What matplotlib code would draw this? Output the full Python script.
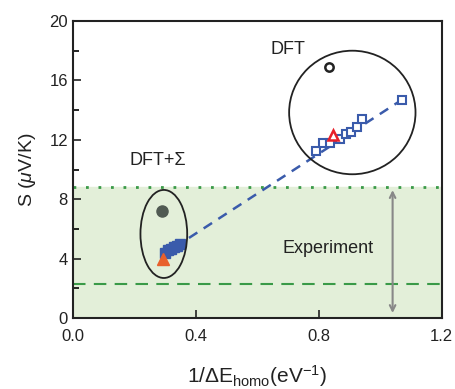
import matplotlib.pyplot as plt
from matplotlib.patches import Ellipse

plt.rcParams['font.family'] = ['Liberation Sans', 'DejaVu Sans']
plt.rcParams['mathtext.fontset'] = 'custom'
plt.rcParams['mathtext.rm'] = 'Liberation Sans'
plt.rcParams['mathtext.it'] = 'Liberation Sans:italic'

# DFT (open symbols)
dft_x = [0.790, 0.814, 0.836, 0.868, 0.890, 0.906, 0.923, 0.939, 1.069]
dft_y = [11.27, 11.76, 11.80, 12.03, 12.39, 12.55, 12.88, 13.38, 14.68]
dft_tri_x, dft_tri_y = [0.847], [12.32]
dft_circ_x, dft_circ_y = [0.834], [16.92]

# DFT+Sigma (filled symbols)
sig_x = [0.300, 0.310, 0.320, 0.330, 0.340, 0.350]
sig_y = [4.40, 4.55, 4.65, 4.75, 4.85, 5.00]
sig_tri_x, sig_tri_y = [0.292], [3.95]
sig_circ_x, sig_circ_y = [0.290], [7.20]

# ajuste lineal
fit_x = [0.33, 1.069]
fit_y = [4.75, 14.68]

# rango experimental
exp_low, exp_high = 2.3, 8.8

blue = '#3a5bab'

fig = plt.figure(figsize=(4.55, 3.89), dpi=100)
ax = fig.add_axes([0.160, 0.1825, 0.811, 0.7635])

ax.axhspan(0, exp_high, color='#e3efd9', zorder=0)
ax.axhline(exp_high, color='#3a9a48', linestyle=(0, (1, 3.5)), lw=2, zorder=1)
ax.axhline(exp_low, color='#3a9a48', linestyle=(0, (6, 4)), lw=1.5, zorder=1)
ax.annotate('', xy=(1.04, 0.15), xytext=(1.04, exp_high),
            arrowprops=dict(arrowstyle='<->', color='#888888', lw=1.5))

ax.plot(fit_x, fit_y, color=blue, linestyle=(0, (4, 3)), lw=1.8, zorder=2)

ax.plot(dft_x, dft_y, 's', mfc='white', mec=blue, mew=1.5, ms=6, ls='none', zorder=3)
ax.plot(dft_tri_x, dft_tri_y, '^', mfc='white', mec='#e8202a', mew=1.8, ms=7, zorder=4)
ax.plot(dft_circ_x, dft_circ_y, 'o', mfc='white', mec='#222222', mew=1.8, ms=6, zorder=4)

ax.plot(sig_x, sig_y, 's', color=blue, ms=7, ls='none', zorder=3)
ax.plot(sig_tri_x, sig_tri_y, '^', color='#e8602c', ms=9, zorder=4)
ax.plot(sig_circ_x, sig_circ_y, 'o', color='#505a52', ms=8, zorder=4)

ax.add_patch(Ellipse((0.296, 5.66), 0.152, 5.93, fill=False, ec='#222222', lw=1.3, zorder=5))
ax.add_patch(Ellipse((0.909, 13.84), 0.411, 8.32, fill=False, ec='#222222', lw=1.3, zorder=5))

ax.text(0.70, 18.1, 'DFT', fontsize=13, ha='center', va='center', color='#222222')
ax.text(0.185, 10.6, 'DFT+Σ', fontsize=13, ha='left', va='center', color='#222222')
ax.text(0.683, 4.7, 'Experiment', fontsize=13, ha='left', va='center', color='#222222')

ax.set_xlim(0, 1.2)
ax.set_ylim(0, 20)
ax.set_xticks([0.0, 0.4, 0.8, 1.2])
ax.set_xticklabels(['0.0', '0.4', '0.8', '1.2'])
ax.set_yticks([0, 4, 8, 12, 16, 20])
ax.set_yticks([2, 6, 10, 14, 18], minor=True)
ax.tick_params(direction='in', labelsize=12, length=6, width=1.2, colors='#222222')
ax.tick_params(axis='x', pad=8)
ax.tick_params(which='minor', direction='in', length=4, width=1.2)
for s in ax.spines.values():
    s.set_linewidth(1.5)
    s.set_color('#222222')

ax.set_xlabel(r'1/$\Delta$E$_{\mathrm{homo}}$(eV$^{\mathrm{-1}}$)', fontsize=15,
              color='#222222', labelpad=14)
ax.set_ylabel(r'S ($\mu$V/K)', fontsize=14, color='#222222', labelpad=8)

fig.savefig('out.png', dpi=100)
